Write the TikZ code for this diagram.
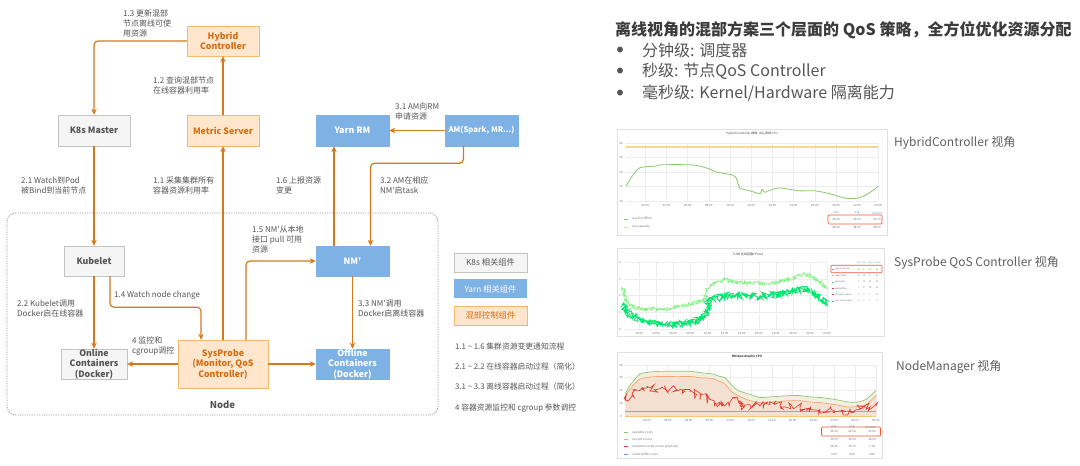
\documentclass[tikz,border=0pt]{standalone}
\usepackage{fontspec}
\setmainfont{Noto Sans CJK SC}[Ligatures=TeXOff]
\usetikzlibrary{arrows.meta,positioning,calc,decorations.pathmorphing}
\definecolor{arcol}{RGB}{214,120,28}
\definecolor{mixfill}{RGB}{255,230,204}
\definecolor{mixline}{RGB}{240,185,110}
\definecolor{mixtext}{RGB}{210,110,20}
\definecolor{k8sfill}{RGB}{245,245,245}
\definecolor{k8sline}{RGB}{195,195,195}
\definecolor{k8stext}{RGB}{85,85,85}
\definecolor{yarnfill}{RGB}{126,178,228}
\definecolor{lblcol}{RGB}{85,85,85}
\definecolor{titlecol}{RGB}{60,60,60}
\definecolor{bulcol}{RGB}{85,85,85}
\definecolor{capcol}{RGB}{95,95,95}
\definecolor{redcol}{RGB}{235,90,50}
\definecolor{gridcol}{RGB}{236,236,236}
\definecolor{cpugreen}{RGB}{140,200,110}
\definecolor{capyellow}{RGB}{242,215,150}
\definecolor{hiblue}{RGB}{80,160,230}
\definecolor{probegreen}{RGB}{0,230,110}
\definecolor{probelight}{RGB}{130,240,130}
\definecolor{nmgreen}{RGB}{140,200,120}
\definecolor{nmorange}{RGB}{245,165,110}
\definecolor{nmred}{RGB}{225,55,45}
\definecolor{fillgreen}{RGB}{244,238,225}
\definecolor{fillorange}{RGB}{243,224,208}
\newcommand{\boxfont}{\bfseries\fontsize{8.8}{10.5}\selectfont}
\newcommand{\tinyfont}{\fontsize{3}{3.6}\selectfont}

\begin{document}
\begin{tikzpicture}[x=1pt, y=-1pt,
  k8sbox/.style={draw=k8sline, fill=k8sfill, text=k8stext, font=\boxfont, align=center,
                 inner sep=0pt, minimum width=72pt, minimum height=30pt},
  yarnbox/.style={draw=yarnfill, fill=yarnfill, text=white, font=\boxfont, align=center,
                  inner sep=0pt, minimum width=73pt, minimum height=30pt},
  mixbox/.style={draw=mixline, fill=mixfill, text=mixtext, font=\boxfont, align=center,
                 inner sep=0pt, minimum width=72pt, minimum height=30pt},
  ar/.style={-{Stealth[length=6pt,width=5.5pt]}, line width=1.2pt, draw=arcol, rounded corners=4pt},
  lbl/.style={font=\fontsize{8}{10}\selectfont, text=lblcol, align=left, inner sep=0pt, anchor=north west},
  keybox/.style={minimum width=73pt, minimum height=19pt, inner sep=0pt, font=\fontsize{8.3}{10}\selectfont},
  note/.style={font=\fontsize{7.8}{9}\selectfont, text=lblcol, anchor=west, inner sep=0pt},
  nodeframe/.style={draw=black!40, dash pattern=on 1.2pt off 1.2pt, line width=0.7pt, rounded corners=9pt},
  chartframe/.style={draw=black!12, fill=white, inner sep=0pt},
  tick/.style={font=\tinyfont, text=black!55, inner sep=0pt},
  grid/.style={draw=gridcol, line width=0.3pt},
  redbox/.style={draw=redcol, line width=0.7pt, rounded corners=1pt, inner sep=0pt},
  captxt/.style={font=\fontsize{12}{14}\selectfont, text=capcol, anchor=west, inner sep=0pt},
  noisy/.style={decorate, decoration={random steps, segment length=#1, amplitude=2.5pt}},
]
  \path[use as bounding box, fill=white] (0,0) rectangle (1080,466);
  \pgfmathsetseed{42}

  % node frame
  \node[nodeframe, minimum width=431pt, minimum height=202pt] (frame) at (222.5,314) {};
  \node[font=\bfseries\fontsize{9.5}{11}\selectfont, text=k8stext, above=3pt of frame.south] (nodetxt) {Node};

  % components
  \node[mixbox] (hc) at (223,41) {Hybrid\\Controller};
  \node[mixbox, minimum height=31pt] (ms) at (223,130.5) {Metric Server};
  \node[k8sbox, minimum height=31pt] (k8s) at (94,130.5) {K8s Master};
  \node[yarnbox, minimum height=31pt] (rm) at (352.5,130.5) {Yarn RM};
  \node[yarnbox, minimum height=31pt, font=\bfseries\fontsize{7.7}{10}\selectfont] (am) at (481.5,130.5) {AM(Spark, MR...)};
  \node[k8sbox, minimum width=60pt] (kub) at (94,261) {Kubelet};
  \node[yarnbox] (nm) at (352.5,261) {NM'};
  \node[k8sbox, minimum width=66pt] (onl) at (94,364) {Online\\Containers\\(Docker)};
  \node[mixbox, minimum width=90pt, minimum height=48pt] (sp) at (223,364) {SysProbe\\(Monitor, QoS\\Controller)};
  \node[yarnbox] (off) at (352.5,364) {Offline\\Containers\\(Docker)};

  % flows
  \draw[ar] (hc.west) -| (k8s.north);
  \draw[ar] (ms) -- (hc);
  \draw[ar] (sp) -- (ms);
  \draw[ar] (k8s) -- (kub);
  \draw[ar] (kub) -- (onl);
  \draw[ar] ($(kub.south)+(16,0)$) -- ++(0,31) -| ($(sp.north)+(-22,0)$);
  \draw[ar] ($(sp.north)+(23,0)$) |- (nm.west);
  \draw[ar] ($(nm.north)+(-18.5,0)$) -- ($(rm.south)+(-18.5,0)$);
  \draw[ar] (am) -- (rm);
  \draw[ar] ($(am.south)+(-18,0)$) -- ++(0,17) -| ($(nm.north)+(18,0)$);
  \draw[ar] (nm) -- (off);
  \draw[ar] (sp) -- (onl);
  \draw[ar] (sp) -- (off);

  \node[lbl] (l13) at (123,10) {1.3 更新混部\\节点离线可使\\用资源};
  \node[lbl] (l12) at (153,77) {1.2 查询混部节点\\在线容器利用率};
  \node[lbl] (l31) at (395,103) {3.1 AM向RM\\申请资源};
  \node[lbl] (l21) at (21,177) {2.1 Watch到Pod\\被Bind到当前节点};
  \node[lbl] (l11) at (153,177) {1.1 采集集群所有\\容器资源利用率};
  \node[lbl] (l16) at (276,177) {1.6 上报资源\\变更};
  \node[lbl] (l32) at (380,177) {3.2 AM在相应\\NM'启task};
  \node[lbl] (l15) at (252,226) {1.5 NM'从本地\\接口 pull 可用\\资源};
  \node[lbl] (l14) at (114,291) {1.4 Watch node change};
  \node[lbl] (l22) at (17,300) {2.2 Kubelet调用\\Docker启在线容器};
  \node[lbl] (l33) at (358,300) {3.3 NM'调用\\Docker启离线容器};
  \node[lbl] (l4) at (132,337) {4 监控和\\cgroup调控};

  % key
  \node[keybox, draw=k8sline, fill=k8sfill, text=k8stext] (key1) at (490.5,262.5) {K8s 相关组件};
  \node[keybox, fill=yarnfill, text=white, below=7pt of key1] (key2) {Yarn 相关组件};
  \node[keybox, draw=mixline, fill=mixfill, text=mixtext, below=7pt of key2] (key3) {混部控制组件};
  \node[note] (n1) at (455,347) {1.1 \textasciitilde{} 1.6 集群资源变更通知流程};
  \node[note] (n2) at (455,367) {2.1 \textasciitilde{} 2.2 在线容器启动过程（简化）};
  \node[note] (n3) at (455,387) {3.1 \textasciitilde{} 3.3 离线容器启动过程（简化）};
  \node[note] (n4) at (455,408) {4 容器资源监控和 cgroup 参数调控};

  % right side text
  \node[font=\bfseries\fontsize{16}{20}\selectfont, text=titlecol, anchor=west, inner sep=0pt] (title) at (615,30)
    {离线视角的混部方案三个层面的 QoS 策略，全方位优化资源分配};
  \foreach \t [count=\i] in {分钟级: 调度器, 秒级: 节点QoS Controller, 毫秒级: Kernel/Hardware 隔离能力} {
    \node[font=\fontsize{6.5}{8}\selectfont, text=bulcol, inner sep=0pt] (dot\i) at (620,{28.5+21.5*\i}) {●};
    \node[font=\fontsize{16}{19}\selectfont, text=bulcol, anchor=west, inner sep=0pt] (bul\i) at (642,{28.5+21.5*\i}) {\t};
  }

  % chart A: hybrid controller
  \node[chartframe, minimum width=270pt, minimum height=106pt] (chA) at (752,182) {};
  \node[tick, text=black!75] (chAt) at (752,134) {Hybrid Controller 视角: 出让离线 CPU};
  \foreach \y in {143,157.5,172,186.5,201} \draw[grid] (626,\y) -- (878,\y);
  \foreach \i in {1,...,12} \draw[grid] ({624+21.2*\i},143) -- ({624+21.2*\i},201);
  \foreach \v/\y in {50/143,40/157.5,30/172,20/186.5,10/201} \node[tick] (ya\v) at (621,\y) {\v};
  \foreach \t [count=\i] in {02:00,04:00,06:00,08:00,10:00,12:00,14:00,16:00,18:00,20:00,22:00,00:00}
    \node[tick] (xa\i) at ({624+21.2*\i},205) {\t};
  \draw[capyellow, line width=1.4pt] (626,147) -- (878,147);
  \begin{scope}[shift={(0,215.5)}, yscale=-1.45]
    \draw[cpugreen, line width=0.8pt] plot[smooth, tension=0.4] coordinates {(626,20) (632,27) (640,33) (655,34)
      (662,35) (690,35) (700,34) (710,32) (716,30) (720,29.5) (724,29) (732,28) (736,26) (740,19) (750,17)
      (760,15) (762,18) (765,16) (772,18) (780,19) (790,18) (800,17) (815,17) (830,15) (845,12) (858,12)
      (868,15) (878,20)};
  \end{scope}
  \draw[cpugreen, line width=0.8pt] (624,219) -- (628,219);
  \draw[capyellow, line width=0.8pt] (624,227) -- (628,227);
  \node[tick, anchor=west] (la1) at (632,219) {cpu for offline};
  \node[tick, anchor=west] (la2) at (632,227) {cpu capacity};
  \foreach \t/\x in {max/836,avg/857,current/877} \node[tick, text=hiblue] (ha\t) at (\x,213) {\t};
  \foreach \a/\b/\c/\y in {35.00/23.04/20.33/219.5, 48.00/48.00/48.00/227} {
    \node[tick] (va\y) at (836,\y) {\a};
    \node[tick] (vb\y) at (857,\y) {\b};
    \node[tick] (vc\y) at (877,\y) {\c};
  }
  \node[redbox, minimum width=54pt, minimum height=9pt] (rA) at (855,219.5) {};
  \node[captxt] (capA) at (894,143) {HybridController 视角};

  % chart B: sysprobe
  \node[chartframe, minimum width=267pt, minimum height=88pt] (chB) at (750.5,292.5) {};
  \node[tick, text=black!75] (chBt) at (748,254) {TUSB 在线容器CPUset};
  \foreach \y in {262,279,295,312,329} \draw[grid] (624,\y) -- (827,\y);
  \foreach \i in {1,...,12} \draw[grid] ({622+17.1*\i},262) -- ({622+17.1*\i},329);
  \foreach \v/\y in {4/262,3/279,2/295,1/312,0/329} \node[tick] (yb\v) at (620,\y) {\v};
  \foreach \t [count=\i] in {02:00,04:00,06:00,08:00,10:00,12:00,14:00,16:00,18:00,20:00,22:00,00:00}
    \node[tick] (xb\i) at ({622+17.1*\i},333) {\t};
  \draw[probelight, line width=0.6pt, noisy=0.6pt, decoration={amplitude=2pt}] plot coordinates {(622,287) (626,300)
    (632,307) (645,309) (665,309) (685,305) (705,300) (707,290) (710,285) (725,280) (745,283) (770,284)
    (790,279) (803,274) (813,276) (820,283) (827,288)};
  \draw[probegreen, line width=0.8pt, noisy=0.5pt, decoration={amplitude=3.5pt}] plot coordinates {(622,304) (628,313)
    (640,320) (660,325) (690,323) (700,319) (706,316) (709,300) (730,295) (760,297) (790,292) (805,289)
    (815,294) (822,300) (827,304)};
  \foreach \t/\x in {min/859,max/864,avg/870,current/877} \node[tick, text=hiblue, font=\fontsize{2.2}{2.6}\selectfont] (hb\t) at (\x,263) {\t};
  \foreach \n/\a/\b/\c/\d/\col [count=\i] in {cpu for online/11/8/10/16/probegreen, load steam/12/14/8/16/nmorange,
      load alloc/1/18/12/14/probegreen, load offline/7/17/10/13/nmred, cfs quota online/1/9/7/11/nmred,
      cpu online other/0/2/3/3/hiblue} {
    \draw[\col, line width=0.6pt] (832,{263+6.3*\i}) -- (834,{263+6.3*\i});
    \node[tick, anchor=west, font=\fontsize{2.2}{2.6}\selectfont] (lb\i) at (835,{263+6.3*\i}) {\n};
    \node[tick, font=\fontsize{2.2}{2.6}\selectfont] (vb\i a) at (859,{263+6.3*\i}) {\a};
    \node[tick, font=\fontsize{2.2}{2.6}\selectfont] (vb\i b) at (864,{263+6.3*\i}) {\b};
    \node[tick, font=\fontsize{2.2}{2.6}\selectfont] (vb\i c) at (870,{263+6.3*\i}) {\c};
    \node[tick, font=\fontsize{2.2}{2.6}\selectfont] (vb\i d) at (877,{263+6.3*\i}) {\d};
  }
  \node[redbox, minimum width=51pt, minimum height=7.5pt] (rB) at (856.5,269) {};
  \node[captxt] (capB) at (894,263) {SysProbe QoS Controller 视角};

  % chart C: nodemanager
  \node[chartframe, minimum width=265pt, minimum height=106pt] (chC) at (749.5,405) {};
  \node[tick, text=black!75, font=\bfseries\tinyfont] (chCt) at (747,357) {NM Apostrophe CPU};
  \foreach \y in {365,377.5,390.5,403,416} \draw[grid] (625,\y) -- (876,\y);
  \foreach \i in {1,...,12} \draw[grid] ({626.2+20.8*\i},365) -- ({626.2+20.8*\i},416);
  \foreach \v/\y in {40/365,30/377.5,20/390.5,10/403,0/416} \node[tick] (yc\v) at (621,\y) {\v};
  \foreach \t [count=\i] in {02:00,04:00,06:00,08:00,10:00,12:00,14:00,16:00,18:00,20:00,22:00,00:00}
    \node[tick] (xc\i) at ({626.2+20.8*\i},420) {\t};
  \begin{scope}[shift={(0,416)}, yscale=-1.275]
    \fill[fillgreen] (625,0) -- plot[smooth, tension=0.4] coordinates {(625,17) (629,23) (633,27) (640,33)
      (650,34.5) (660,35) (690,35) (700,34) (712,33) (720,31) (725,30) (732,24) (738,20) (750,17) (760,14.5)
      (770,15) (780,15.5) (790,16) (800,16) (810,15) (820,14.5) (835,13) (848,11) (858,11) (866,13) (872,17)
      (876,20)} -- (876,0) -- cycle;
    \fill[fillorange] (625,0) -- plot[smooth, tension=0.4] coordinates {(625,15) (629,20) (633,24) (640,29)
      (650,30.5) (660,31) (690,31) (700,30) (712,29.5) (720,27) (725,25) (732,19) (738,16) (750,12) (760,10.5)
      (770,11) (780,11.5) (790,12) (800,12) (810,11) (820,10.5) (835,9) (848,7) (858,7.5) (866,9) (872,13)
      (876,16)} -- (876,0) -- cycle;
    \draw[nmgreen, line width=0.7pt] plot[smooth, tension=0.4] coordinates {(625,17) (629,23) (633,27) (640,33)
      (650,34.5) (660,35) (690,35) (700,34) (712,33) (720,31) (725,30) (732,24) (738,20) (750,17) (760,14.5)
      (770,15) (780,15.5) (790,16) (800,16) (810,15) (820,14.5) (835,13) (848,11) (858,11) (866,13) (872,17)
      (876,20)};
    \draw[nmorange, line width=0.7pt] plot[smooth, tension=0.4] coordinates {(625,15) (629,20) (633,24) (640,29)
      (650,30.5) (660,31) (690,31) (700,30) (712,29.5) (720,27) (725,25) (732,19) (738,16) (750,12) (760,10.5)
      (770,11) (780,11.5) (790,12) (800,12) (810,11) (820,10.5) (835,9) (848,7) (858,7.5) (866,9) (872,13)
      (876,16)};
    \draw[black!35, line width=0.6pt] (625,4) -- (876,4);
    \draw[capyellow!80!orange, line width=0.8pt] (625,0) -- (876,0);
    \draw[nmred, line width=0.65pt, noisy=1.6pt, decoration={amplitude=4.2pt}]
      plot coordinates {(625,12) (632,16) (640,20) (650,22) (665,21) (680,21) (690,19)
      (700,16) (710,13) (718,10) (725,8) (730,11) (735,14) (740,8) (750,9) (760,8) (770,9) (780,8) (790,8)
      (800,7) (810,6) (820,5) (830,6) (840,4) (850,4) (860,6) (870,7) (876,8)};
  \end{scope}
  \foreach \t/\x in {max/834,avg/852,current/870} \node[tick, text=hiblue] (hc\t) at (\x,427) {\t};
  \foreach \n/\a/\b/\c/\col [count=\i] in {available cores/35.00/23.04/20.00/nmgreen,
      current vcores/31.00/19.04/16.00/nmorange, containers used vcores (physical)/24.40/10.72/7.78/nmred,
      inside buffer cores/4.00/4.00/4.00/hiblue} {
    \draw[\col, line width=0.6pt] (624,{424.5+7.4*\i}) -- (628,{424.5+7.4*\i});
    \node[tick, anchor=west] (lc\i) at (632,{424.5+7.4*\i}) {\n};
    \node[tick] (vc\i a) at (834,{424.5+7.4*\i}) {\a};
    \node[tick] (vc\i b) at (852,{424.5+7.4*\i}) {\b};
    \node[tick] (vc\i c) at (872,{424.5+7.4*\i}) {\c};
  }
  \node[redbox, minimum width=59pt, minimum height=9pt] (rC) at (851,431.5) {};
  \node[captxt] (capC) at (896,367) {NodeManager 视角};
\end{tikzpicture}
\end{document}
